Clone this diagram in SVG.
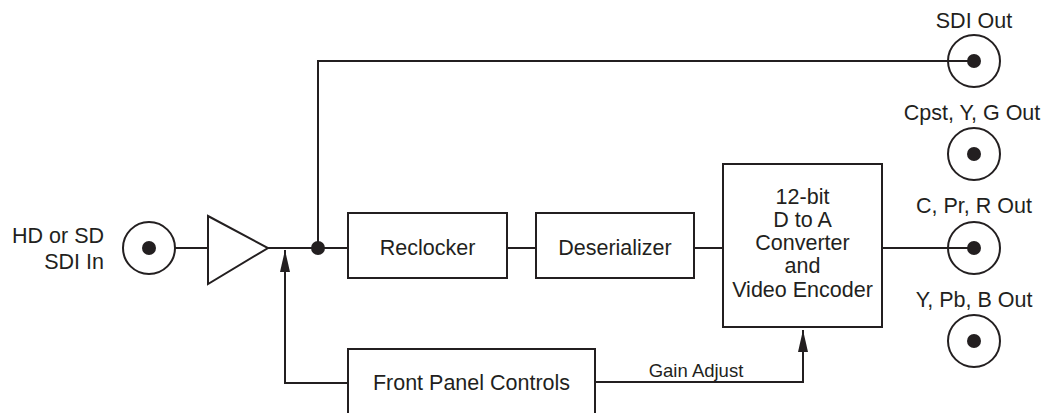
<svg xmlns="http://www.w3.org/2000/svg" width="1048" height="413" viewBox="0 0 1048 413">
<style>
.ln{fill:none;stroke:#231f20;stroke-width:2}
.bx{fill:#fff;stroke:#231f20;stroke-width:2}
.t{font-family:"Liberation Sans",Arial,sans-serif;font-size:21.5px;fill:#231f20;text-anchor:middle}
.s{font-family:"Liberation Sans",Arial,sans-serif;font-size:18.5px;fill:#231f20;text-anchor:middle}
.dot{fill:#231f20}
</style>
<defs>
<marker id="ah" viewBox="0 0 22 10" refX="22" refY="5" markerWidth="22" markerHeight="10" markerUnits="userSpaceOnUse" orient="auto">
<path d="M22 5 L0 0 L0 10 Z" fill="#231f20"/>
</marker>
</defs>
<g id="connectors">
<path class="ln" d="M175 248 H208"/>
<path class="ln" d="M268 248 H348"/>
<path class="ln" d="M318 248 V61 H974"/>
<path class="ln" d="M507 248 H536"/>
<path class="ln" d="M694 248 H723"/>
<path class="ln" d="M882 248 H974"/>
<path class="ln" d="M348 383 H285 V250" marker-end="url(#ah)"/>
<path class="ln" d="M595 382 H803 V330" marker-end="url(#ah)"/>
<circle class="dot" cx="318" cy="248" r="7"/>
<text class="s" x="696" y="377">Gain Adjust</text>
</g>
<g id="sdi-in">
<circle class="ln" cx="149" cy="248" r="26"/>
<circle class="dot" cx="149" cy="248" r="7"/>
<text class="t" x="104" y="243" style="text-anchor:end">HD or SD</text>
<text class="t" x="104" y="269" style="text-anchor:end">SDI In</text>
</g>
<g id="amplifier">
<path class="ln" d="M208 216 L268 248 L208 284 Z"/>
</g>
<g id="reclocker">
<rect class="bx" x="348" y="213" width="159" height="65"/>
<text class="t" x="427.5" y="255">Reclocker</text>
</g>
<g id="deserializer">
<rect class="bx" x="536" y="213" width="158" height="65"/>
<text class="t" x="615" y="255">Deserializer</text>
</g>
<g id="converter">
<rect class="bx" x="723" y="164" width="159" height="163"/>
<text class="t" x="802.5" y="204">12-bit</text>
<text class="t" x="802.5" y="227">D to A</text>
<text class="t" x="802.5" y="250">Converter</text>
<text class="t" x="802.5" y="273">and</text>
<text class="t" x="802.5" y="297">Video Encoder</text>
</g>
<g id="front-panel">
<rect class="bx" x="348" y="349" width="247" height="80"/>
<text class="t" x="471.5" y="390">Front Panel Controls</text>
</g>
<g id="sdi-out">
<circle class="ln" cx="974" cy="61" r="26"/>
<circle class="dot" cx="974" cy="61" r="7"/>
<text class="t" x="974" y="28">SDI Out</text>
</g>
<g id="cpst-out">
<circle class="ln" cx="974" cy="154" r="26"/>
<circle class="dot" cx="974" cy="154" r="7"/>
<text class="t" x="972" y="120">Cpst, Y, G Out</text>
</g>
<g id="cpr-out">
<circle class="ln" cx="974" cy="248" r="26"/>
<circle class="dot" cx="974" cy="248" r="7"/>
<text class="t" x="974" y="213">C, Pr, R Out</text>
</g>
<g id="ypb-out">
<circle class="ln" cx="974" cy="341" r="26"/>
<circle class="dot" cx="974" cy="341" r="7"/>
<text class="t" x="974" y="307">Y, Pb, B Out</text>
</g>
</svg>
